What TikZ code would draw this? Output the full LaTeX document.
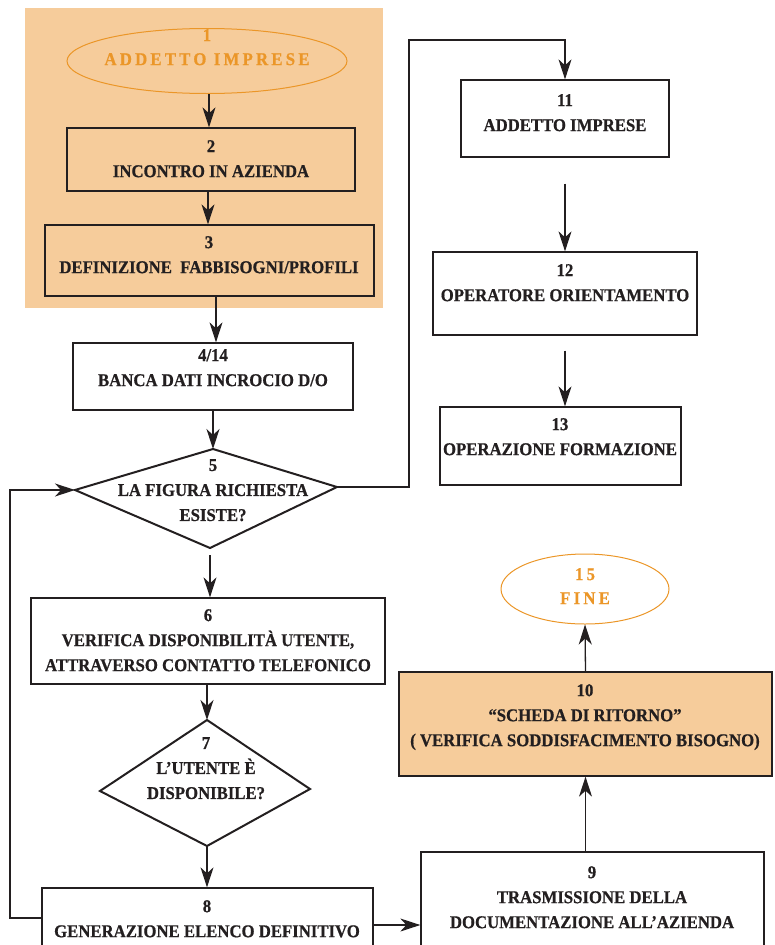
\documentclass[tikz,border=0pt]{standalone}
\usepackage{fontspec}
\setmainfont{Liberation Serif}[FakeStretch=0.93, BoldFeatures={FakeBold=0.7}]
\usetikzlibrary{arrows.meta,shapes.geometric}

\definecolor{panelfill}{HTML}{F6CC9B}
\definecolor{termcol}{HTML}{EB9628}
\definecolor{ink}{HTML}{231F20}

\newcommand\labelfont{\fontsize{18}{25}\selectfont\bfseries}
\newcommand\termfont{\fontsize{18}{24}\selectfont\bfseries\addfontfeature{LetterSpace=18}}

\tikzset{
  panel/.style={rectangle, fill=panelfill, inner sep=0pt},
  stepbox/.style={rectangle, draw=ink, line width=1.3pt, inner sep=0pt},
  terminal/.style={ellipse, draw=termcol, line width=1pt, inner sep=0pt},
  decision/.style={draw=ink, line width=2pt, line join=miter},
  txt/.style={anchor=north, align=center, inner sep=0pt, font=\labelfont, text=ink},
  termtxt/.style={anchor=north, align=center, inner sep=0pt, font=\termfont, text=termcol},
  flow/.style={draw=ink, line width=1.3pt, -{Stealth[length=20pt,width=13pt,inset=6pt]}},
}

\begin{document}
\begin{tikzpicture}[x=1pt,y=-1pt]
\useasboundingbox (0,0) rectangle (775,945);
\clip (0,0) rectangle (775,945);

% shaded area behind the first three steps
\node[panel, minimum width=358pt, minimum height=300pt] (panel) at (204,158) {};

% ---- boxes and terminals ----
\node[terminal, minimum width=280pt, minimum height=65pt] (n1) at (207,61) {};
\node[termtxt] (t1) at (207,29) {1\\ADDETTO IMPRESE};

\node[stepbox, fill=panelfill, minimum width=288pt, minimum height=63pt] (n2) at (211,159.5) {};
\node[txt] (t2) at (211,140) {2\\INCONTRO IN AZIENDA};

\node[stepbox, fill=panelfill, minimum width=329pt, minimum height=71pt] (n3) at (209.5,260.5) {};
\node[txt] (t3) at (209,236) {3\\DEFINIZIONE\ \ FABBISOGNI/PROFILI};

\node[stepbox, minimum width=280pt, minimum height=67pt] (n4) at (213,376.5) {};
\node[txt] (t4) at (213,349) {4/14\\BANCA DATI INCROCIO D/O};

% decision 5
\coordinate (d5t) at (213,449);
\coordinate (d5r) at (337,487);
\coordinate (d5b) at (210,548);
\coordinate (d5l) at (75,490);
\draw[decision] (d5t) -- (d5r) -- (d5b) -- (d5l) -- cycle;
\node[txt] (t5) at (213,459) {5\\LA FIGURA RICHIESTA\\ESISTE?};

\node[stepbox, minimum width=354pt, minimum height=86pt] (n6) at (208,641) {};
\node[txt] (t6) at (208,609) {6\\VERIFICA DISPONIBILITÀ UTENTE,\\ATTRAVERSO CONTATTO TELEFONICO};

% decision 7
\coordinate (d7t) at (207,720);
\coordinate (d7r) at (310,789);
\coordinate (d7b) at (207,846);
\coordinate (d7l) at (100,791);
\draw[decision] (d7t) -- (d7r) -- (d7b) -- (d7l) -- cycle;
\node[txt] (t7) at (206,737) {7\\L’UTENTE È\\DISPONIBILE?};

\node[stepbox, minimum width=331pt, minimum height=74pt] (n8) at (207.5,925) {};
\node[txt] (t8) at (207,900) {8\\GENERAZIONE ELENCO DEFINITIVO};

\node[stepbox, minimum width=343pt, minimum height=148pt] (n9) at (592.5,926) {};
\node[txt] (t9) at (592,866) {9\\TRASMISSIONE DELLA\\DOCUMENTAZIONE ALL’AZIENDA};

\node[stepbox, fill=panelfill, minimum width=373pt, minimum height=104pt] (n10) at (585.5,724) {};
\node[txt] (t10) at (585,684) {10\\“SCHEDA DI RITORNO”\\( VERIFICA SODDISFACIMENTO BISOGNO)};

\node[terminal, minimum width=168pt, minimum height=70pt] (n15) at (585,589) {};
\node[termtxt] (t15) at (585,568) {15\\FINE};

\node[stepbox, minimum width=208pt, minimum height=77pt] (n11) at (565,118.5) {};
\node[txt] (t11) at (565,94) {11\\ADDETTO IMPRESE};

\node[stepbox, minimum width=264pt, minimum height=83pt] (n12) at (565,293.5) {};
\node[txt] (t12) at (565,264) {12\\OPERATORE ORIENTAMENTO};

\node[stepbox, minimum width=241pt, minimum height=78pt] (n13) at (560.5,446) {};
\node[txt] (t13) at (560,418) {13\\OPERAZIONE FORMAZIONE};

% ---- connectors ----
\draw[flow] ([xshift=2pt]n1.south) -- ([xshift=2pt]n1.south |- n2.north);
\draw[flow] ([xshift=-3pt]n2.south) -- ([xshift=-3pt]n2.south |- n3.north);
\draw[flow] ([xshift=6.5pt]n3.south) -- ([xshift=6.5pt]n3.south |- n4.north);
\draw[flow] (n4.south) -- (d5t);
\draw[flow] ([yshift=-7pt]d5b) -- (d5b |- n6.north);

\coordinate (topbend) at (409,40);
\draw[flow] (d5r) -- (d5r -| topbend) -- (topbend) -- (topbend -| n11.north) -- (n11.north);
\draw[flow] ([yshift=-26pt]n11.south) -- (n12.north);
\draw[flow] ([yshift=-15pt]n12.south) -- (n12.south |- n13.north);

\draw[flow] (n6.south -| d7t) -- (d7t);
\draw[flow] (d7b) -- (d7b |- n8.north);

\coordinate (leftbend) at (10,918);
\draw[flow] (n8.west |- leftbend) -- (leftbend) -- (leftbend |- d5l) -- (d5l);
\draw[flow] (n8.east) -- (n8.east -| n9.west);
\draw[flow] (n9.north -| n10.south) -- (n10.south);
\draw[flow] (n10.north) -- (n15.south);
\end{tikzpicture}
\end{document}
